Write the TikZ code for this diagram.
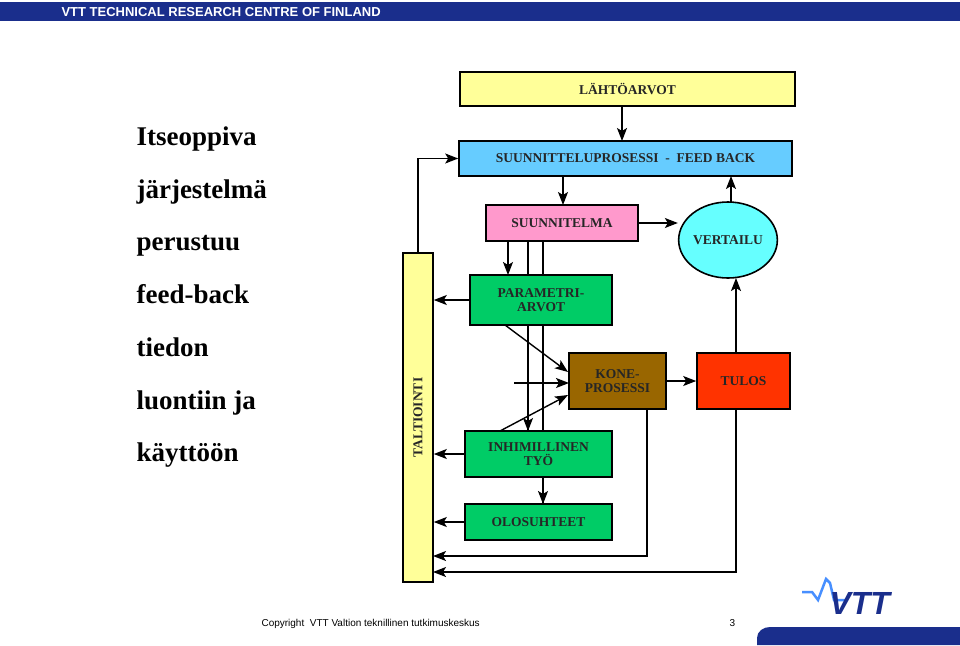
\documentclass[tikz,border=0pt]{standalone}
\usepackage{fontspec}
\setmainfont{Liberation Serif}
\newfontfamily\sansf{Liberation Sans}
\usetikzlibrary{arrows.meta,shapes.geometric}
\definecolor{vttblue}{HTML}{1A2E8C}
\definecolor{cyellow}{HTML}{FFFF99}
\definecolor{cblue}{HTML}{66CCFF}
\definecolor{cpink}{HTML}{FF99CC}
\definecolor{ccyan}{HTML}{66FFFF}
\definecolor{cgreen}{HTML}{00CC66}
\definecolor{cbrown}{HTML}{996600}
\definecolor{cred}{HTML}{FF3300}
\tikzset{
 box/.style={draw=black,line width=1.6pt,inner sep=0pt,font=\fontsize{13.5}{14.5}\selectfont\bfseries,text=black!85,align=center},
 ar/.style={line width=1.4pt,-{Stealth[length=13pt,width=10pt,inset=3pt]}},
 ln/.style={line width=1.4pt},
 lt/.style={font=\fontsize{27}{28}\selectfont\bfseries,anchor=base west}
}
\begin{document}
\begin{tikzpicture}[x=1pt,y=-1pt]
\useasboundingbox (0,0) rectangle (960,645);
\fill[white] (0,0) rectangle (960,645);
% header
\fill[vttblue] (0,2) rectangle (960,21);
\node[anchor=west,text=white,font=\sansf\fontsize{13}{13}\selectfont\bfseries] (hdr) at (58,12) {VTT TECHNICAL RESEARCH CENTRE OF FINLAND};
% left text
\node[lt] (t1) at (133,145) {Itseoppiva};
\node[lt] (t2) at (133,198) {järjestelmä};
\node[lt] (t3) at (133,250) {perustuu};
\node[lt] (t4) at (133,303) {feed-back};
\node[lt] (t5) at (133,356) {tiedon};
\node[lt] (t6) at (133,409) {luontiin ja};
\node[lt] (t7) at (133,461) {käyttöön};
% pass-through lines
\coordinate (s1) at (528,241);
\coordinate (s1e) at (528,431);
\coordinate (s2) at (543,241);
\coordinate (s2e) at (543,504);
\draw[ln] (s1) -- (s1e);
\draw[ln] (s2) -- (s2e);
% boxes
\node[box,fill=cyellow,minimum width=335,minimum height=34] (lah) at (627.5,89) {LÄHTÖARVOT};
\node[box,fill=cblue,minimum width=333,minimum height=35] (sp) at (625.5,158.5) {SUUNNITTELUPROSESSI\ \ -\ \ FEED BACK};
\node[box,fill=cpink,minimum width=152,minimum height=36] (sm) at (562,223) {SUUNNITELMA};
\node[ellipse,draw=black,line width=1.6pt,fill=ccyan,minimum width=94,minimum height=76,inner sep=0pt,font=\fontsize{13.5}{14.5}\selectfont\bfseries,text=black!85] (ve) at (728,240) {VERTAILU};
\node[box,fill=cgreen,minimum width=142,minimum height=50] (pa) at (541,300) {PARAMETRI-\\ARVOT};
\node[box,fill=cbrown,minimum width=97,minimum height=56] (ko) at (617.5,381) {KONE-\\PROSESSI};
\node[box,fill=cred,minimum width=93,minimum height=56] (tu) at (743.5,381) {TULOS};
\node[box,fill=cgreen,minimum width=147,minimum height=46] (in) at (538.5,454) {INHIMILLINEN\\TYÖ};
\node[box,fill=cgreen,minimum width=147,minimum height=36] (ol) at (538.5,522) {OLOSUHTEET};
\node[box,fill=cyellow,minimum width=30,minimum height=329] (ta) at (418,417.5) {};
\node[rotate=90,font=\fontsize{13.5}{14.5}\selectfont\bfseries,text=black!85] (tat) at (ta.center) {TALTIOINTI};
% arrows
\draw[ar] (s1 |- pa.south) -- (s1e);
\draw[ar] (s2 |- in.south) -- (s2e);
\draw[ar] (622,106) -- (622,141);
\draw[ar] (ta.north) |- (sp.west);
\draw[ar] (563,176) -- (563,205);
\draw[ar] (sm.east) -- (ve.west |- sm.east);
\draw[ar] (731,202) -- (731,176);
\draw[ar] (508,241) -- (508,275);
\draw[ar] (505,325) -- (568,372);
\coordinate (hin) at (514,383);
\draw[ar] (hin) -- (569,383);
\draw[ar] (500,431) -- (568,395);
\draw[ar] (pa.west) -- (pa.west -| ta.east);
\draw[ar] (in.west) -- (in.west -| ta.east);
\draw[ar] (ol.west) -- (ol.west -| ta.east);
\draw[ar] (647,409) |- (433,556);
\draw[ar] (736,409) |- (433,572);
\draw[ar] (ko.east) -- (tu.west);
\draw[ar] (736,353) -- (736,278);
% footer
\node[anchor=base west,font=\sansf\fontsize{10}{10}\selectfont] (cp) at (258,626) {Copyright\ \ VTT Valtion teknillinen tutkimuskeskus};
\node[anchor=base west,font=\sansf\fontsize{10}{10}\selectfont] (pg) at (726,626) {3};
\fill[vttblue] (757,645) -- (757,638) to[out=90,in=180] (770,627) -- (960,627) -- (960,645) -- cycle;
\draw[line width=2.5pt,color=cblue!70!blue] (802,592) -- (812,592) -- (818,600) -- (826,579) -- (830,583) -- (834,600) -- (845,600);
\node[anchor=west,font=\sansf\fontsize{32}{32}\selectfont\bfseries\itshape,text=vttblue] (logo) at (826,603) {VTT};
\end{tikzpicture}
\end{document}
